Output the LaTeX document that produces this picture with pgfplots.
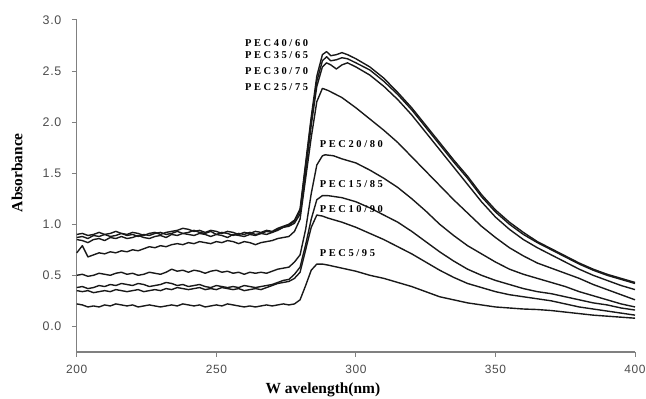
\documentclass[border=0pt]{standalone}
\usepackage{pgfplots}
\pgfplotsset{compat=1.18}
\usepackage{fontspec}
\setmainfont{Liberation Serif}
\newfontfamily\tickfont[LetterSpace=5]{Liberation Sans}
\newfontfamily\lblfont[LetterSpace=25]{Liberation Serif Bold}
\newcommand{\pec}[1]{{\lblfont\fontsize{10.5}{12}\selectfont #1}}
\begin{document}
\begin{tikzpicture}
\begin{axis}[
  scale only axis, width=560pt, height=333pt,
  xmin=200, xmax=400, ymin=-0.25, ymax=3.0,
  axis x line=bottom, axis y line=left,
  axis line style={-, draw=black!50, line width=1.3pt},
  tick align=outside, major tick length=5pt,
  tick style={draw=black!50, line width=1pt},
  xtick={200,250,300,350,400},
  ytick={0,0.5,1,1.5,2,2.5,3},
  /pgf/number format/assume math mode=true,
  yticklabel style={font=\tickfont\fontsize{12.5}{15}\selectfont, text=black!70, /pgf/number format/fixed, /pgf/number format/fixed zerofill, /pgf/number format/precision=1, xshift=-7pt},
  xticklabel style={font=\tickfont\fontsize{12}{15}\selectfont, text=black!70, /pgf/number format/1000 sep={}, yshift=-5pt},
  xlabel={W avelength(nm)}, ylabel={Absorbance},
  label style={font=\bfseries\fontsize{15.5}{17}\selectfont},
  xlabel style={at={(axis description cs:0.441,-0.114)}, anchor=center},
  ylabel style={at={(axis description cs:-0.107,0.54)}, anchor=center},
  cycle list={{black}},
  every axis plot post/.append style={draw=black!90, solid, line width=1.4pt, line join=round},
  no markers,
  clip=false,
]
% PEC40/60
\addplot coordinates {(200,.90)(202,.91)(204,.89)(206,.90)(208,.92)(210,.90)(212,.91)(214,.93)(216,.91)(218,.90)(220,.92)(222,.91)(224,.89)(226,.91)(228,.92)(230,.90)(232,.92)(234,.93)(236,.94)(238,.96)(240,.95)(242,.93)(244,.94)(246,.92)(248,.94)(250,.93)(252,.91)(254,.93)(256,.92)(258,.90)(260,.92)(262,.91)(264,.93)(266,.92)(268,.94)(270,.93)(272,.96)(274,.98)(276,1.00)(278,1.04)(280,1.15)(282,1.60)(284,2.05)(286,2.45)(288,2.66)(289.5,2.69)(291,2.65)(293,2.66)(295,2.68)(297,2.66)(300,2.62)(305,2.54)(310,2.43)(315,2.29)(320,2.14)(325,1.97)(330,1.80)(335,1.63)(340,1.47)(345,1.29)(350,1.14)(355,1.02)(360,0.92)(365,0.83)(370,0.76)(375,0.69)(380,0.62)(385,0.56)(390,0.51)(395,0.47)(400,0.43)};
% PEC35/65
\addplot coordinates {(200,.87)(202,.88)(204,.86)(206,.89)(208,.88)(210,.90)(212,.88)(214,.89)(216,.91)(218,.89)(220,.90)(222,.88)(224,.90)(226,.89)(228,.91)(230,.92)(232,.90)(234,.91)(236,.93)(238,.91)(240,.92)(242,.94)(244,.92)(246,.91)(248,.93)(250,.90)(252,.92)(254,.91)(256,.89)(258,.91)(260,.90)(262,.92)(264,.90)(266,.91)(268,.93)(270,.92)(272,.95)(274,.97)(276,.99)(278,1.03)(280,1.13)(282,1.57)(284,2.02)(286,2.40)(288,2.60)(289.5,2.64)(291,2.60)(293,2.61)(295,2.63)(297,2.62)(300,2.58)(305,2.51)(310,2.40)(315,2.27)(320,2.12)(325,1.95)(330,1.78)(335,1.61)(340,1.45)(345,1.27)(350,1.12)(355,1.00)(360,0.90)(365,0.82)(370,0.75)(375,0.68)(380,0.61)(385,0.55)(390,0.50)(395,0.46)(400,0.42)};
% PEC30/70
\addplot coordinates {(200,.85)(202,.84)(204,.82)(206,.85)(208,.86)(210,.84)(212,.87)(214,.86)(216,.88)(218,.86)(220,.87)(222,.89)(224,.87)(226,.86)(228,.88)(230,.89)(232,.87)(234,.90)(236,.89)(238,.91)(240,.90)(242,.89)(244,.91)(246,.90)(248,.88)(250,.90)(252,.89)(254,.87)(256,.90)(258,.89)(260,.88)(262,.90)(264,.89)(266,.91)(268,.90)(270,.92)(272,.94)(274,.97)(276,.98)(278,1.01)(280,1.10)(282,1.52)(284,1.97)(286,2.35)(288,2.54)(289.5,2.58)(291,2.56)(293,2.52)(295,2.56)(297,2.58)(300,2.54)(305,2.46)(310,2.35)(315,2.22)(320,2.07)(325,1.90)(330,1.73)(335,1.56)(340,1.39)(345,1.22)(350,1.07)(355,0.95)(360,0.85)(365,0.77)(370,0.70)(375,0.63)(380,0.56)(385,0.50)(390,0.45)(395,0.40)(400,0.36)};
% PEC25/75
\addplot coordinates {(200,.72)(202,.79)(204,.68)(206,.70)(208,.72)(210,.71)(212,.73)(214,.72)(216,.74)(218,.73)(220,.75)(222,.74)(224,.76)(226,.78)(228,.77)(230,.79)(232,.78)(234,.80)(236,.81)(238,.80)(240,.82)(242,.81)(244,.83)(246,.82)(248,.81)(250,.83)(252,.82)(254,.84)(256,.83)(258,.81)(260,.83)(262,.82)(264,.80)(266,.82)(268,.83)(270,.84)(272,.86)(274,.87)(276,.88)(278,.93)(280,1.05)(282,1.45)(284,1.85)(286,2.20)(288,2.33)(290,2.31)(295,2.24)(300,2.14)(305,2.03)(310,1.92)(315,1.80)(320,1.66)(325,1.52)(330,1.38)(335,1.24)(340,1.11)(345,0.98)(350,0.87)(355,0.77)(360,0.69)(365,0.62)(370,0.57)(375,0.52)(380,0.47)(385,0.41)(390,0.36)(395,0.31)(400,0.26)};
% PEC20/80
\addplot coordinates {(200,.50)(202,.51)(204,.49)(206,.50)(208,.52)(210,.51)(212,.50)(214,.52)(216,.53)(218,.51)(220,.52)(222,.50)(224,.51)(226,.53)(228,.52)(230,.51)(232,.53)(234,.56)(236,.54)(238,.55)(240,.53)(242,.55)(244,.54)(246,.52)(248,.54)(250,.55)(252,.53)(254,.54)(256,.52)(258,.53)(260,.51)(262,.53)(264,.52)(266,.53)(268,.52)(270,.54)(272,.56)(274,.57)(276,.58)(278,.63)(280,.70)(282,.95)(284,1.30)(286,1.58)(288,1.67)(289,1.68)(292,1.67)(295,1.64)(300,1.60)(305,1.53)(310,1.45)(315,1.36)(320,1.25)(325,1.13)(330,1.00)(335,0.89)(340,0.79)(345,0.71)(350,0.63)(355,0.56)(360,0.51)(365,0.47)(370,0.43)(375,0.39)(380,0.34)(385,0.30)(390,0.26)(395,0.22)(400,0.19)};
% PEC15/85
\addplot coordinates {(200,.38)(202,.39)(204,.37)(206,.38)(208,.40)(210,.39)(212,.41)(214,.40)(216,.42)(218,.41)(220,.40)(222,.42)(224,.41)(226,.39)(228,.40)(230,.41)(232,.43)(234,.42)(236,.40)(238,.41)(240,.39)(242,.40)(244,.41)(246,.39)(248,.38)(250,.40)(252,.39)(254,.38)(256,.39)(258,.38)(260,.40)(262,.39)(264,.38)(266,.39)(268,.40)(270,.41)(272,.43)(274,.45)(276,.46)(278,.51)(280,.58)(282,.80)(284,1.05)(286,1.24)(288,1.28)(290,1.28)(295,1.26)(300,1.22)(305,1.16)(310,1.09)(315,1.02)(320,0.93)(325,0.83)(330,0.73)(335,0.64)(340,0.56)(345,0.50)(350,0.45)(355,0.41)(360,0.37)(365,0.34)(370,0.32)(375,0.29)(380,0.26)(385,0.23)(390,0.21)(395,0.18)(400,0.16)};
% PEC10/90
\addplot coordinates {(200,.35)(202,.34)(204,.35)(206,.33)(208,.34)(210,.35)(212,.34)(214,.36)(216,.35)(218,.34)(220,.35)(222,.36)(224,.34)(226,.35)(228,.36)(230,.35)(232,.37)(234,.36)(236,.38)(238,.37)(240,.36)(242,.37)(244,.38)(246,.36)(248,.37)(250,.36)(252,.38)(254,.37)(256,.36)(258,.37)(260,.35)(262,.36)(264,.37)(266,.36)(268,.38)(270,.40)(272,.42)(274,.43)(276,.44)(278,.47)(280,.53)(282,.75)(284,.97)(286,1.09)(288,1.08)(290,1.06)(295,1.02)(300,0.97)(305,0.91)(310,0.85)(315,0.78)(320,0.71)(325,0.63)(330,0.55)(335,0.48)(340,0.42)(345,0.38)(350,0.34)(355,0.31)(360,0.29)(365,0.27)(370,0.25)(375,0.22)(380,0.19)(385,0.17)(390,0.15)(395,0.13)(400,0.11)};
% PEC5/95
\addplot coordinates {(200,.22)(202,.21)(204,.19)(206,.20)(208,.19)(210,.21)(212,.20)(214,.22)(216,.21)(218,.20)(220,.21)(222,.19)(224,.20)(226,.21)(228,.20)(230,.19)(232,.20)(234,.21)(236,.20)(238,.22)(240,.21)(242,.20)(244,.21)(246,.19)(248,.20)(250,.21)(252,.20)(254,.22)(256,.21)(258,.20)(260,.19)(262,.20)(264,.19)(266,.20)(268,.21)(270,.20)(272,.21)(274,.22)(276,.21)(278,.22)(280,.26)(282,.40)(284,.55)(286,.61)(288,.61)(290,.60)(295,.57)(300,.54)(305,.50)(310,.47)(315,.43)(320,.39)(325,.34)(330,.29)(335,.26)(340,.23)(345,.21)(350,.19)(355,.18)(360,.17)(365,.165)(370,.155)(375,.14)(380,.125)(385,.11)(390,.10)(395,.09)(400,.08)};
\node[anchor=west, inner sep=0pt] at (axis cs:260.2,2.77) {\pec{PEC40/60}};
\node[anchor=west, inner sep=0pt] at (axis cs:260.2,2.66) {\pec{PEC35/65}};
\node[anchor=west, inner sep=0pt] at (axis cs:260.2,2.50) {\pec{PEC30/70}};
\node[anchor=west, inner sep=0pt] at (axis cs:260.2,2.34) {\pec{PEC25/75}};
\node[anchor=west, inner sep=0pt] at (axis cs:287,1.78) {\pec{PEC20/80}};
\node[anchor=west, inner sep=0pt] at (axis cs:287,1.39) {\pec{PEC15/85}};
\node[anchor=west, inner sep=0pt] at (axis cs:287,1.15) {\pec{PEC10/90}};
\node[anchor=west, inner sep=0pt] at (axis cs:287,0.72) {\pec{PEC5/95}};
\end{axis}
\pgfresetboundingbox
\path (-77pt,-47pt) rectangle (571pt,353pt);
\end{tikzpicture}
\end{document}
